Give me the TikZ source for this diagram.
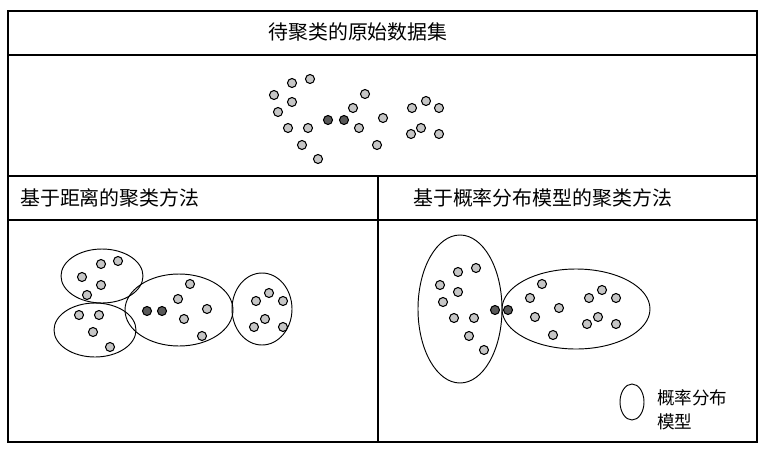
\documentclass[tikz,border=0pt]{standalone}
\usepackage{fontspec}
\newfontfamily\cjk{Noto Sans CJK SC}
\usetikzlibrary{positioning}

\tikzset{
  frame/.style={line width=1.1pt},
  grp/.style={line width=0.8pt},
  pt/.style={draw=black, line width=0.9pt, fill=gray!45},
  ptd/.style={draw=black, line width=0.9pt, fill=black!65},
  lbl/.style={font=\cjk\fontsize{17}{20}\selectfont, inner sep=0pt}
}

\begin{document}
\begin{tikzpicture}[x=0.3mm, y=-0.3mm]
\useasboundingbox (0,0) rectangle (768,454);

% frame and panels
\draw[frame] (8,11) rectangle (757,442);
\draw[frame] (8,55) -- (757,55);
\draw[frame] (8,176) -- (757,176);
\draw[frame] (8,220) -- (757,220);
\draw[frame] (378,176) -- (378,442);

\node[lbl] (title) at (358,32) {待聚类的原始数据集};
\node[lbl, anchor=west] (distlbl) at (20,198) {基于距离的聚类方法};
\node[lbl, anchor=west] (problbl) at (413,198) {基于概率分布模型的聚类方法};

% raw data
\foreach \x/\y in {310/79, 292/83, 274/95, 292/102, 278/112, 365/94, 353/108,
                   288/128, 308/128, 359/128, 383/118, 302/145, 318/159, 377/145,
                   412/108, 426/101, 439/108, 421/128, 411/134, 439/134}
  \draw[pt] (\x,\y) circle (4.5);
\foreach \x/\y in {328/120, 344/120}
  \draw[ptd] (\x,\y) circle (4.5);

% distance based
\draw[grp] (102,276) ellipse [x radius=41, y radius=27];
\draw[grp] (95,330) ellipse [x radius=41, y radius=27];
\draw[grp] (179,310) ellipse [x radius=54, y radius=36];
\draw[grp] (262,309) ellipse [x radius=30, y radius=36];
\foreach \x/\y in {118/261, 101/264, 82/277, 101/285, 87/295,
                   79/315, 99/315, 93/332, 110/347,
                   190/284, 178/299, 207/309, 184/319, 202/336,
                   269/293, 256/301, 283/301, 265/319, 254/327, 283/327}
  \draw[pt] (\x,\y) circle (4.5);
\foreach \x/\y in {147/311, 162/311}
  \draw[ptd] (\x,\y) circle (4.5);

% probability model based
\draw[grp] (460,309) ellipse [x radius=42, y radius=74];
\draw[grp] (576,309) ellipse [x radius=74, y radius=40];
\foreach \x/\y in {476/268, 458/272, 440/285, 458/292, 443/302, 454/318, 474/318,
                   469/336, 484/350,
                   542/284, 530/298, 559/308, 535/317, 553/335, 602/290, 589/298,
                   616/298, 598/317, 587/324, 616/324}
  \draw[pt] (\x,\y) circle (4.5);
\foreach \x/\y in {495/310, 508/310}
  \draw[ptd] (\x,\y) circle (4.5);

% legend
\draw[grp] (632,402) ellipse [x radius=12, y radius=18];
\node[lbl, font=\cjk\fontsize{15}{21}\selectfont, align=left, anchor=north west]
  (legend) at (657,389) {概率分布\\模型};
\end{tikzpicture}
\end{document}
